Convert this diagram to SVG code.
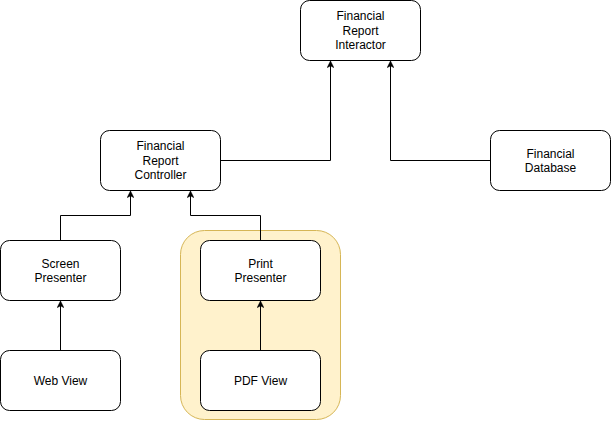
<svg xmlns="http://www.w3.org/2000/svg" width="611" height="421" viewBox="0 0 611 421">
<style>
.node rect{fill:#ffffff;stroke:#000000;stroke-width:1}
.lbl{font-family:"Liberation Sans",Arial,sans-serif;font-size:12px;fill:#000000;text-anchor:middle}
.edge{fill:none;stroke:#000000;stroke-width:1}
</style>
<defs>
<marker id="arr" viewBox="0 0 10 10" refX="9" refY="5" markerWidth="7" markerHeight="7" markerUnits="userSpaceOnUse" orient="auto">
<path d="M0,0 L10,5 L0,10 L2.5,5 Z" fill="#000000" stroke="#000000" stroke-width="0.5"/>
</marker>
</defs>
<rect id="group" x="180.5" y="230.5" width="160" height="189" rx="24" ry="24" fill="#fff2cc" stroke="#d6b656"/>
<g id="connectors">
<path class="edge" d="M220.5,160.5 L330.5,160.5 L330.5,61.5" marker-end="url(#arr)"/>
<path class="edge" d="M490.5,160.5 L390.5,160.5 L390.5,61.5" marker-end="url(#arr)"/>
<path class="edge" d="M60.5,240.5 L60.5,215.5 L130.5,215.5 L130.5,191.5" marker-end="url(#arr)"/>
<path class="edge" d="M260.5,240.5 L260.5,215.5 L190.5,215.5 L190.5,191.5" marker-end="url(#arr)"/>
<path class="edge" d="M60.5,350.5 L60.5,301.5" marker-end="url(#arr)"/>
<path class="edge" d="M260.5,350.5 L260.5,301.5" marker-end="url(#arr)"/>
</g>
<g id="interactor" class="node">
<rect x="300.5" y="0.5" width="120" height="60" rx="9" ry="9"/>
<text class="lbl" x="360.5" y="20">Financial</text>
<text class="lbl" x="360.5" y="34.5">Report</text>
<text class="lbl" x="360.5" y="49">Interactor</text>
</g>
<g id="controller" class="node">
<rect x="100.5" y="130.5" width="120" height="60" rx="9" ry="9"/>
<text class="lbl" x="160.5" y="150">Financial</text>
<text class="lbl" x="160.5" y="164.5">Report</text>
<text class="lbl" x="160.5" y="179">Controller</text>
</g>
<g id="database" class="node">
<rect x="490.5" y="130.5" width="120" height="60" rx="9" ry="9"/>
<text class="lbl" x="550.5" y="157.5">Financial</text>
<text class="lbl" x="550.5" y="172">Database</text>
</g>
<g id="screen-presenter" class="node">
<rect x="0.5" y="240.5" width="120" height="60" rx="9" ry="9"/>
<text class="lbl" x="60.5" y="267.5">Screen</text>
<text class="lbl" x="60.5" y="282">Presenter</text>
</g>
<g id="print-presenter" class="node">
<rect x="200.5" y="240.5" width="120" height="60" rx="9" ry="9"/>
<text class="lbl" x="260.5" y="267.5">Print</text>
<text class="lbl" x="260.5" y="282">Presenter</text>
</g>
<g id="web-view" class="node">
<rect x="0.5" y="350.5" width="120" height="60" rx="9" ry="9"/>
<text class="lbl" x="60.5" y="384.5">Web View</text>
</g>
<g id="pdf-view" class="node">
<rect x="200.5" y="350.5" width="120" height="60" rx="9" ry="9"/>
<text class="lbl" x="260.5" y="384.5">PDF View</text>
</g>
</svg>
